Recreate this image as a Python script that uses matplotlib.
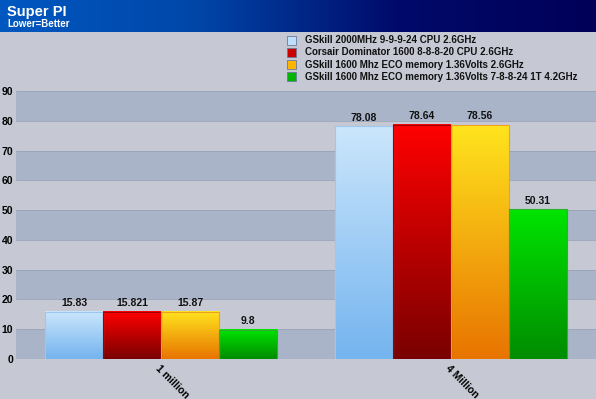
import numpy as np
import matplotlib
matplotlib.use("Agg")
import matplotlib.pyplot as plt
from matplotlib.colors import LinearSegmentedColormap
from matplotlib.patches import Rectangle

categories = ["1 million", "4 Million"]
series_names = [
    "GSkill 2000MHz 9-9-9-24 CPU 2.6GHz",
    "Corsair Dominator 1600 8-8-8-20 CPU 2.6GHz",
    "GSkill 1600 Mhz ECO memory 1.36Volts 2.6GHz",
    "GSkill 1600 Mhz ECO memory 1.36Volts 7-8-8-24 1T 4.2GHz",
]
values = [
    [15.83, 78.08],
    [15.821, 78.64],
    [15.87, 78.56],
    [9.8, 50.31],
]
value_labels = [
    ["15.83", "78.08"],
    ["15.821", "78.64"],
    ["15.87", "78.56"],
    ["9.8", "50.31"],
]
yticks = [0, 10, 20, 30, 40, 50, 60, 70, 80, 90]

grad_top = ["#cbe6fb", "#ff0000", "#ffe41e", "#00e400"]
grad_bot = ["#74b4ef", "#7a0000", "#e87400", "#008c00"]
edge_cols = ["#9cc8ee", "#a00000", "#f0a020", "#30b030"]
legend_cols = ["#bfe0fa", "#cc0000", "#ffb400", "#00b400"]

W, H = 596, 399
fig = plt.figure(figsize=(W / 100, H / 100), dpi=100)
fig.patch.set_facecolor("#c6c9d3")

# Title bar
tax = fig.add_axes([0, 1 - 32 / H, 1, 32 / H])
tax.set_axis_off()
grad = np.linspace(0, 1, 256).reshape(1, -1)
tcm = LinearSegmentedColormap.from_list("t", ["#0058c0", "#0046a8", "#000a6a", "#000058"])
tax.imshow(grad, cmap=tcm, aspect="auto", extent=[0, 1, 0, 1])
tax.set_xlim(0, 1)
tax.set_ylim(0, 1)
tax.text(7 / W, 0.64, "Super PI", color="white", fontsize=10.5, fontweight="bold",
         va="center", ha="left", family="Liberation Sans")
tax.text(7 / W, 0.26, "Lower=Better", color="white", fontsize=7, fontweight="bold",
         va="center", ha="left", family="Liberation Sans")

# Main axes
left, right = 16 / W, 1.0
bottom, top = (H - 359) / H, (H - 91) / H
ax = fig.add_axes([left, bottom, right - left, top - bottom])
ax.set_facecolor("#c6c9d3")
ax.set_xlim(-0.5, len(categories) - 0.5)
ax.set_ylim(0, 90)
for s in ax.spines.values():
    s.set_visible(False)

for i in range(0, 90, 10):
    c = "#a9b4c9" if (i // 10) % 2 == 0 else "#c6c9d3"
    ax.axhspan(i, i + 10, color=c, zorder=0, lw=0)
for yv in yticks:
    ax.axhline(yv, color="#9aa4b8", lw=0.6, zorder=0.5)

bw = 0.2
n = len(series_names)
for s in range(n):
    cmap = LinearSegmentedColormap.from_list("g%d" % s, [grad_bot[s], grad_top[s]])
    for c in range(len(categories)):
        x0 = c - 2 * bw + s * bw
        h = values[s][c]
        ax.imshow(np.linspace(0, 1, 128).reshape(-1, 1), cmap=cmap, origin="lower",
                  aspect="auto", extent=[x0, x0 + bw, 0, h], zorder=2)
        ax.add_patch(Rectangle((x0, 0), bw, h, fill=False, ec=edge_cols[s], lw=0.8, zorder=3))
        ax.text(x0 + bw / 2, h + 1.2, value_labels[s][c], ha="center", va="bottom",
                fontsize=7.5, fontweight="bold", color="#111111", family="Liberation Sans", zorder=4)

ax.set_xlim(-0.5, len(categories) - 0.5)
ax.set_ylim(0, 90)
ax.set_yticks(yticks)
ax.set_yticklabels([str(v) for v in yticks], fontsize=7.5, fontweight="bold", family="Liberation Sans")
ax.set_xticks(range(len(categories)))
ax.set_xticklabels(categories, rotation=-45, ha="left", va="top", rotation_mode="anchor",
                   fontsize=7.5, fontweight="bold", family="Liberation Sans")
ax.tick_params(axis="both", length=0, pad=2)
ax.tick_params(axis="x", pad=3)

# Legend
for s in range(n):
    yc = H - (40 + s * 12.3)
    fig.patches.append(Rectangle((287 / W, (yc - 4.5) / H), 9 / W, 9 / H, transform=fig.transFigure,
                                 fc=legend_cols[s], ec="#6a7a9a", lw=0.6, figure=fig))
    fig.text(305 / W, yc / H, series_names[s], fontsize=7, fontweight="bold", va="center", ha="left",
             color="#111111", family="Liberation Sans")

fig.savefig("out.png", dpi=100, facecolor=fig.get_facecolor())
